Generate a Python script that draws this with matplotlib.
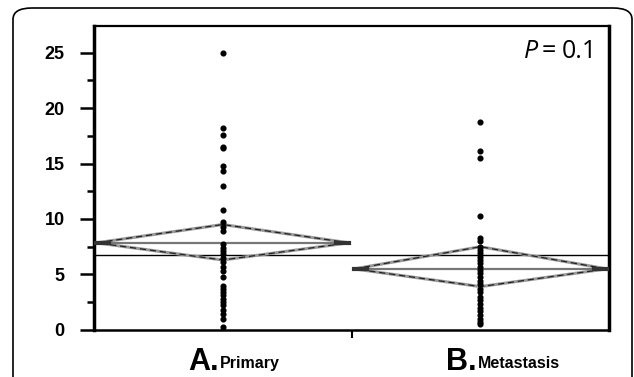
import matplotlib.pyplot as plt
from matplotlib.patches import FancyBboxPatch, Polygon
from matplotlib.ticker import MultipleLocator

# data
groups = ["Primary", "Metastasis"]
letters = ["A.", "B."]
primary = [25.0, 18.2, 17.6, 16.5, 16.4, 14.8, 14.3, 13.0, 10.8, 9.7, 9.3, 8.9,
           7.7, 7.4, 7.1, 6.8, 6.5, 6.1, 5.7, 5.3, 4.8, 4.0, 3.7, 3.4, 3.1, 2.8,
           2.5, 2.2, 1.8, 1.4, 1.0, 0.3]
metastasis = [18.7, 16.1, 15.5, 10.3, 8.3, 8.0, 7.5, 7.2, 6.9, 6.6, 6.3, 6.0,
              5.7, 5.4, 5.1, 4.8, 4.4, 4.1, 3.7, 3.4, 3.0, 2.7, 2.3, 2.0, 1.7,
              1.3, 1.0, 0.7, 0.5]
means = [7.85, 5.5]
ci_low = [6.3, 3.9]
ci_high = [9.5, 7.5]
half_width = [0.49, 0.49]
grand_mean = 6.77
p_text = "0.1"

fig = plt.figure(figsize=(6.34, 3.77), dpi=100)
ax = fig.add_axes([0.148, 0.125, 0.813, 0.806])

# rounded outer frame
frame = FancyBboxPatch((13 / 634, -0.2), 619 / 634, 1.2 - 8 / 377,
                       boxstyle="round,pad=0,rounding_size=0.03",
                       transform=fig.transFigure, fill=False,
                       edgecolor="black", linewidth=1.2, clip_on=False)
fig.patches.append(frame)

ax.axhline(grand_mean, color="black", lw=1.0, zorder=2)

for i, vals in enumerate([primary, metastasis]):
    w = half_width[i]
    pts = [(i - w, means[i]), (i, ci_high[i]), (i + w, means[i]), (i, ci_low[i])]
    ax.add_patch(Polygon(pts, closed=True, fill=False, edgecolor="#9a9a9a", lw=2.2, zorder=3))
    ax.add_patch(Polygon(pts, closed=True, fill=False, edgecolor="#222222", lw=0.9,
                         linestyle=(0, (5, 3)), zorder=3))
    ax.plot([i - w, i + w], [means[i], means[i]], color="#777777", lw=1.6, zorder=3)
    ax.plot([i - w, i - w + 0.05], [means[i], means[i]], color="#333333", lw=3, zorder=3)
    ax.plot([i + w - 0.05, i + w], [means[i], means[i]], color="#333333", lw=3, zorder=3)
    ax.plot([i] * len(vals), vals, "o", color="black", ms=3.4, zorder=4)

ax.set_xlim(-0.5, 1.5)
ax.set_ylim(0, 27.4)
ax.yaxis.set_major_locator(MultipleLocator(5))
ax.yaxis.set_minor_locator(MultipleLocator(2.5))
ax.tick_params(axis="y", which="major", length=10, width=1.8, labelsize=13, pad=11)
ax.tick_params(axis="y", which="minor", length=5, width=1.8)
ax.set_xticks([0.5])
ax.set_xticklabels([""])
ax.tick_params(axis="x", length=6, width=1.5)
for lab in ax.get_yticklabels():
    lab.set_fontweight("bold")
    lab.set_fontfamily("Liberation Sans")

for side, lw in [("left", 2.5), ("right", 2.5), ("top", 1.6), ("bottom", 1.8)]:
    ax.spines[side].set_linewidth(lw)

for i in range(2):
    ax.annotate(letters[i], xy=(i, 0), xycoords=("data", "axes fraction"),
                xytext=(-3, -12), textcoords="offset points", ha="right", va="top",
                fontsize=22, fontweight="bold", family="Liberation Sans")
    ax.annotate(groups[i], xy=(i, 0), xycoords=("data", "axes fraction"),
                xytext=(-2, -19), textcoords="offset points", ha="left", va="top",
                fontsize=11.5, fontweight="bold", family="Liberation Sans")

ax.text(0.977, 0.958, p_text, transform=ax.transAxes, ha="right", va="top",
        fontsize=18, family="Open Sans")
ax.text(0.897, 0.958, "=", transform=ax.transAxes, ha="right", va="top",
        fontsize=18, family="Open Sans")
ax.text(0.862, 0.958, "P", transform=ax.transAxes, ha="right", va="top",
        fontsize=18, family="Open Sans", style="italic")

fig.savefig("out.png", dpi=100)
